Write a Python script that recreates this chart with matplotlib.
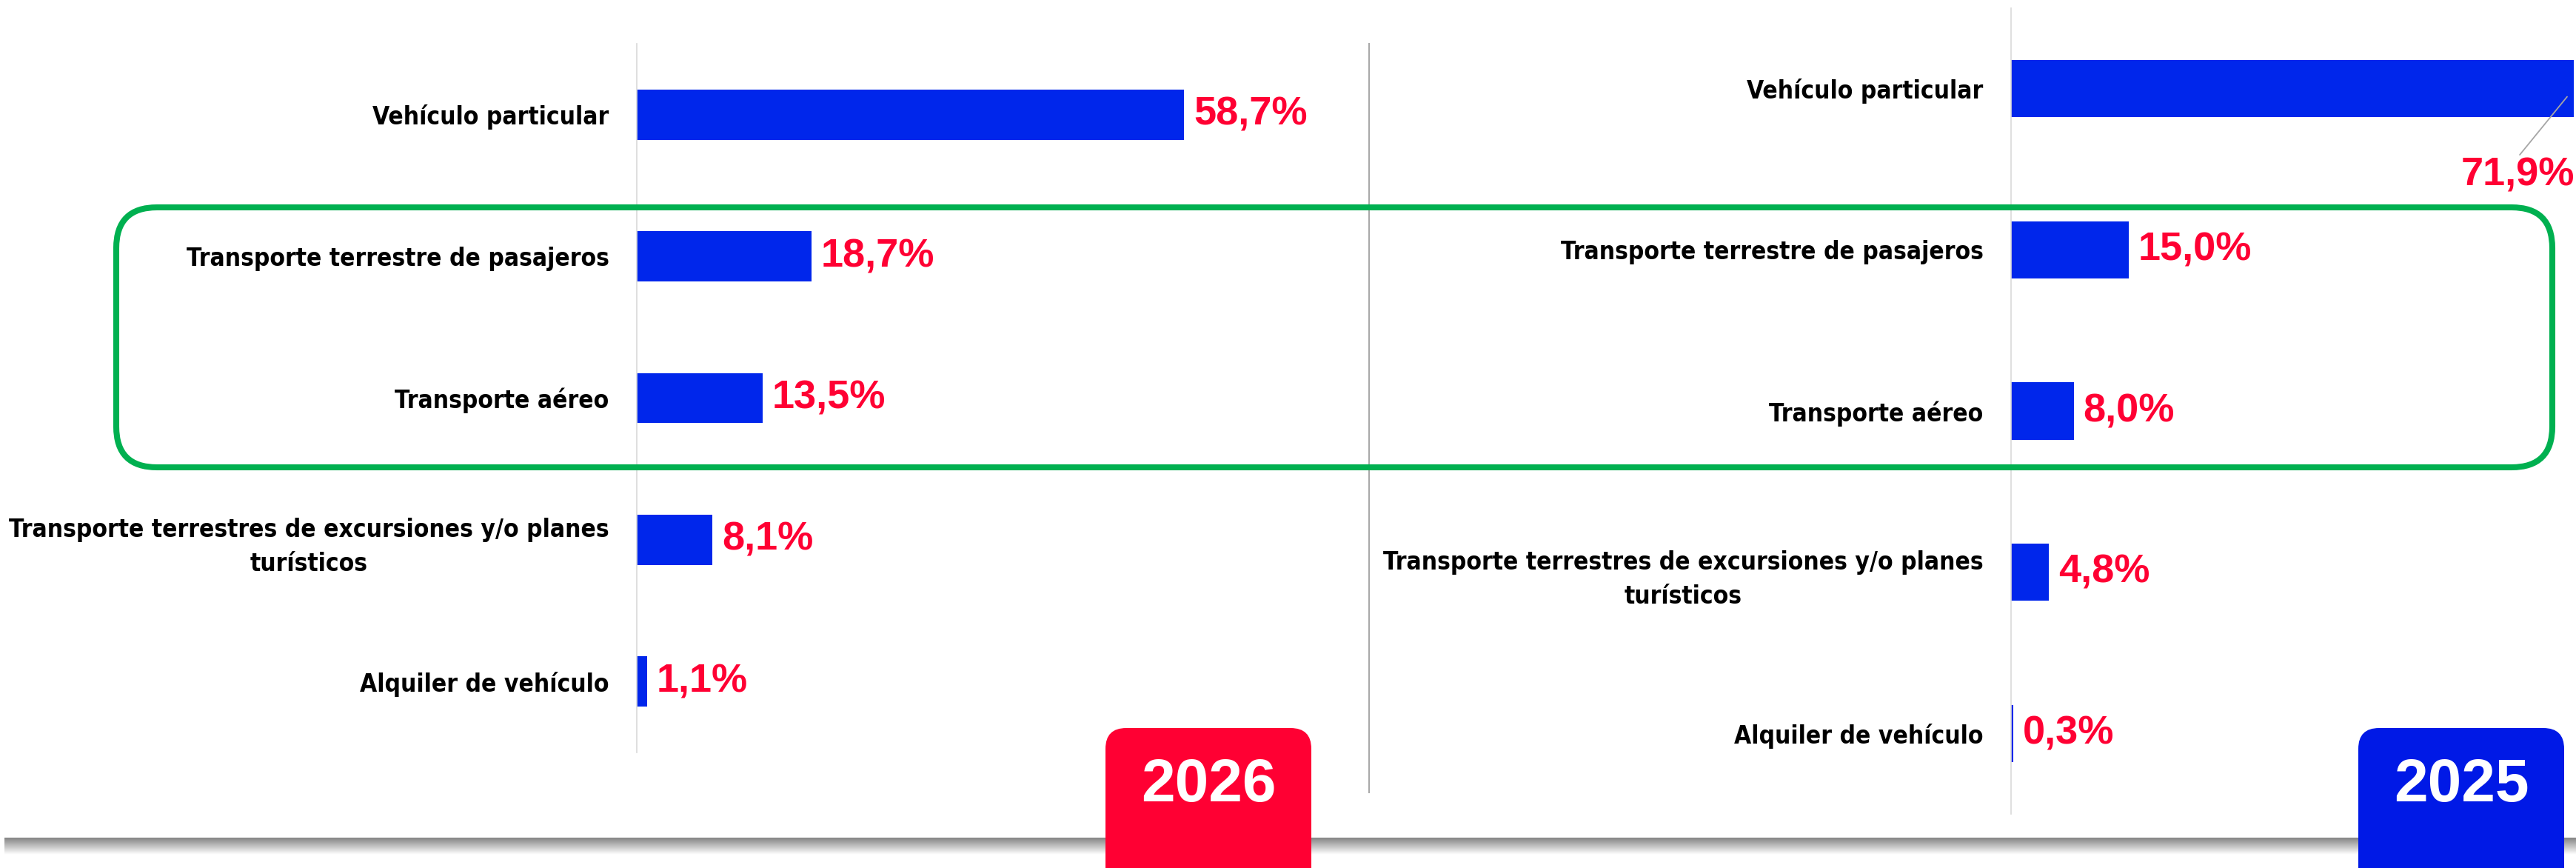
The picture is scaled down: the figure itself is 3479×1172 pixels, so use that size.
import numpy as np
import matplotlib
matplotlib.use("Agg")
import matplotlib.pyplot as plt
from matplotlib import font_manager
from matplotlib.font_manager import FontProperties
from matplotlib.patches import FancyBboxPatch

# data
CATEGORIES = [
    "Vehículo particular",
    "Transporte terrestre de pasajeros",
    "Transporte aéreo",
    "Transporte terrestres de excursiones y/o planes\nturísticos",
    "Alquiler de vehículo",
]
VALUES_2026 = [58.7, 18.7, 13.5, 8.1, 1.1]
VALUES_2025 = [71.9, 15.0, 8.0, 4.8, 0.3]
YEARS = ["2026", "2025"]

C_BAR = "#0026EB"
C_VAL = "#FF0033"
C_RED = "#FF0033"
C_BLUE = "#0019E6"
C_GREEN = "#00B050"
C_AXIS = "#D9D9D9"
C_SEP = "#A6A6A6"

W, H, DPI = 3480, 1172, 100


def narrow_font():
    """A condensed bold face if the machine has one, else None."""
    files = [f.fname for f in font_manager.fontManager.ttflist]
    for key in ("liberationsansnarrow-bold.", "dejavusanscondensed-bold.",
                "robotocondensed-bold.", "opensanscondensed-bold"):
        for fn in files:
            if fn.lower().rsplit("/", 1)[-1].startswith(key):
                return fn
    return None


NARROW = narrow_font()
if NARROW:
    LABEL_FP = FontProperties(fname=NARROW, size=24)
else:
    LABEL_FP = FontProperties(family="DejaVu Sans", weight="bold", size=21)
VALUE_FONT = "Liberation Sans"


def fmt(v):
    return f"{v:.1f}".replace(".", ",") + "%"


fig = plt.figure(figsize=(W / DPI, H / DPI), dpi=DPI)


def panel(x0, x1, y0, y1, xmax, values, big_outside=False):
    """One bar panel placed by pixel box (top-left origin)."""
    ax = fig.add_axes([x0 / W, 1 - y1 / H, (x1 - x0) / W, (y1 - y0) / H], zorder=2)
    ax.patch.set_alpha(0)
    pos = np.arange(len(values))
    ax.barh(pos, values, height=0.355, color=C_BAR, zorder=2)
    ax.set_xlim(0, xmax)
    ax.set_ylim(len(values) - 0.5, -0.5)
    ax.set_yticks(pos, labels=CATEGORIES)
    for lbl in ax.get_yticklabels():
        lbl.set_fontproperties(LABEL_FP)
        lbl.set_multialignment("center")
        lbl.set_linespacing(1.5)
    ax.tick_params(axis="y", length=0, pad=27)
    ax.set_xticks([])
    for s in ("top", "right", "bottom"):
        ax.spines[s].set_visible(False)
    ax.spines["left"].set_color(C_AXIS)
    ax.spines["left"].set_linewidth(1.2)

    for i, v in enumerate(values):
        if big_outside and i == 0:
            # value sits below the clipped bar, tied to it by a leader line
            ax.annotate(fmt(v), xy=(v, i), xytext=(-75, -117), textcoords="offset pixels",
                        ha="center", va="center", fontsize=39, fontweight="bold",
                        family=VALUE_FONT, color=C_VAL, annotation_clip=False,
                        arrowprops=dict(arrowstyle="-", color=C_SEP, lw=1.3,
                                        shrinkA=0, shrinkB=10, relpos=(0.5, 1.0)))
        else:
            ax.annotate(fmt(v), xy=(v, i), xytext=(13, 0), textcoords="offset pixels",
                        ha="left", va="center", fontsize=39, fontweight="bold",
                        family=VALUE_FONT, color=C_VAL)
    return ax


ax_l = panel(860, 1840, 59, 1016, 77.8, VALUES_2026)
ax_r = panel(2716, 3480, 11, 1099, 72.3, VALUES_2025, big_outside=True)

# overlay in pixel coordinates for the decorations
ov = fig.add_axes([0, 0, 1, 1], zorder=5)
ov.patch.set_alpha(0)
ov.axis("off")

# card bottom shadow
grad = np.linspace(0.52, 1.0, 40)[:, None] * np.ones((1, 2))
ov.imshow(grad, cmap="gray", vmin=0, vmax=1, aspect="auto",
          extent=(6, W, 1154, 1131), interpolation="bilinear", zorder=1)

# separator between panels
ov.plot([1849, 1849], [59, 1070], color=C_SEP, lw=1.4, zorder=2)

# green highlight box
ov.add_patch(FancyBboxPatch((157, 280), 3447 - 157, 631 - 280,
                            boxstyle="round,pad=0,rounding_size=55",
                            fill=False, ec=C_GREEN, lw=5.8, zorder=3))

# year badges
for (bx, col), year in zip([(1493, C_RED), (3185, C_BLUE)], YEARS):
    ov.add_patch(FancyBboxPatch((bx, 983), 278, 260,
                                boxstyle="round,pad=0,rounding_size=28",
                                fc=col, ec="none", zorder=4))
    ov.text(bx + 139, 1061, year, ha="center", va="center", color="white",
            fontsize=59, fontweight="bold", family=VALUE_FONT, zorder=5)

ov.set_xlim(0, W)
ov.set_ylim(H, 0)

fig.savefig("out.png", dpi=DPI, facecolor="white")
